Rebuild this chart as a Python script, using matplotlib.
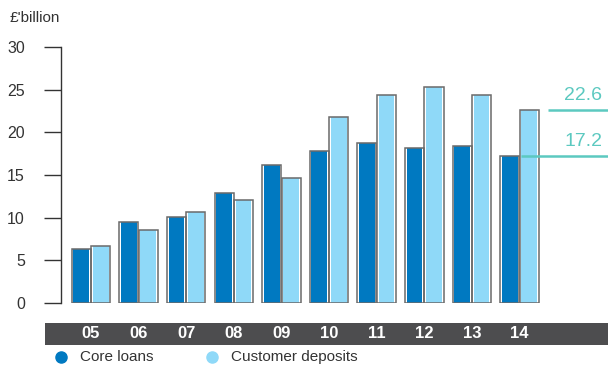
import matplotlib.pyplot as plt
import numpy as np
from matplotlib.lines import Line2D

plt.rcParams['font.family'] = ['Liberation Sans', 'DejaVu Sans']

years = ['05', '06', '07', '08', '09', '10', '11', '12', '13', '14']
core_loans = [6.3, 9.5, 10.1, 12.9, 16.2, 17.8, 18.8, 18.2, 18.4, 17.2]
customer_deposits = [6.7, 8.6, 10.7, 12.1, 14.6, 21.8, 24.4, 25.3, 24.4, 22.6]
yticks = [0, 5, 10, 15, 20, 25, 30]

DARK = '#0079C1'
LIGHT = '#8FD9F8'
EDGE = '#6a6a6a'
TEAL = '#5CC9C0'
TXT = '#333333'

fig = plt.figure(figsize=(6.08, 3.65), dpi=100)
ax = fig.add_axes([0.1003, 0.170, 0.8997, 0.701])

x = np.arange(len(years))
w = 0.40
for off, vals, col in [(-0.205, core_loans, DARK), (0.205, customer_deposits, LIGHT)]:
    ax.bar(x + off, vals, width=w - 0.07, color=col, lw=0, zorder=2)
    ax.bar(x + off, vals, width=w, fill=False, edgecolor=EDGE, lw=1.1, zorder=3)

ax.set_xlim(-0.63, 10.86)
ax.set_ylim(0, 30)
ax.set_yticks(yticks)
ax.set_xticks([])
for s in ['top', 'right', 'bottom']:
    ax.spines[s].set_visible(False)
ax.spines['left'].set_color(TXT)
ax.spines['left'].set_linewidth(1.0)
ax.tick_params(axis='y', length=12, width=1.0, color=TXT,
               labelsize=11.5, labelcolor=TXT, pad=14)

# value callouts for the latest year
ax.plot([9.60, 10.86], [customer_deposits[-1]] * 2, color=TEAL, lw=1.8,
        zorder=4, clip_on=False, solid_capstyle='butt')
ax.plot([9.03, 10.86], [core_loans[-1]] * 2, color=TEAL, lw=1.8,
        zorder=4, clip_on=False, solid_capstyle='butt')
ax.text(10.74, customer_deposits[-1] + 0.7, f'{customer_deposits[-1]:.1f}',
        color=TEAL, fontsize=14, ha='right', va='bottom')
ax.text(10.74, core_loans[-1] + 0.7, f'{core_loans[-1]:.1f}',
        color=TEAL, fontsize=14, ha='right', va='bottom')

fig.text(0.016, 0.952, "£'billion", fontsize=11, color=TXT, va='center')

# year band under the plot
band = plt.Rectangle((45 / 608, 20 / 365), 563 / 608, 22 / 365,
                     transform=fig.transFigure, color='#4d4d4f', lw=0, zorder=1)
fig.add_artist(band)
x0, x1 = ax.get_xlim()
for xi, yr in zip(x, years):
    fx = 0.1003 + (xi - x0) / (x1 - x0) * 0.8997
    fig.text(fx, 31 / 365, yr, ha='center', va='center', color='white',
             fontsize=12, fontweight='bold', zorder=5)

# legend
for px, col, label in [(61, DARK, 'Core loans'), (212, LIGHT, 'Customer deposits')]:
    fig.add_artist(Line2D([px / 608], [8 / 365], marker='o', markersize=8,
                          color=col, lw=0, transform=fig.transFigure))
    fig.text((px + 19) / 608, 8 / 365, label, fontsize=11, color=TXT, va='center')

fig.savefig('out.png', dpi=100)
